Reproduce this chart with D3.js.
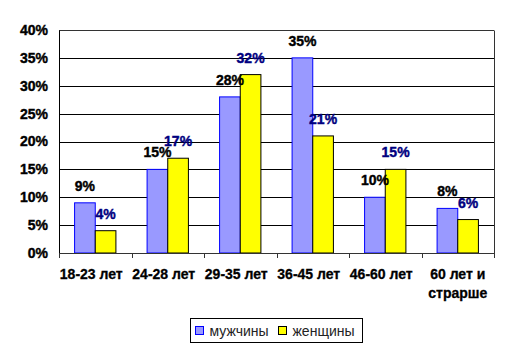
<!DOCTYPE html>
<html>
<head>
<meta charset="utf-8">
<script src="https://cdn.jsdelivr.net/npm/d3@7"></script>
<style>
  body { margin: 0; background: #fff; }
  text { font-family: "Liberation Sans", Arial, sans-serif; }
</style>
</head>
<body>
<div id="chart"></div>
<script>
const categories = [["18-23 лет"], ["24-28 лет"], ["29-35 лет"], ["36-45 лет"], ["46-60 лет"], ["60 лет и", "страрше"]];
const seriesNames = ["мужчины", "женщины"];
const men = [9, 15, 28, 35, 10, 8];
const women = [4, 17, 32, 21, 15, 6];
const yTicks = [0, 5, 10, 15, 20, 25, 30, 35, 40];

const W = 511, H = 354;
const margin = {top: 30, right: 17, bottom: 101, left: 59};
const width = W - margin.left - margin.right;
const height = H - margin.top - margin.bottom;

const fills = ["#9999ff", "#ffff00"];
const strokes = ["#0000ff", "#000000"];
const labelColors = ["#000000", "#000080"];

const svg = d3.select("#chart")
  .append("svg")
  .attr("width", W)
  .attr("height", H);

const g = svg.append("g")
  .attr("transform", `translate(${margin.left},${margin.top})`);

const x = d3.scaleBand()
  .domain(categories.map((d, i) => i))
  .range([0, width])
  .paddingInner(0.43)
  .paddingOuter(0.215);

const x1 = d3.scaleBand()
  .domain([0, 1])
  .range([0, x.bandwidth()]);

const y = d3.scaleLinear()
  .domain([0, 40])
  .range([height, 0]);

// gridlines
g.selectAll(".grid")
  .data(yTicks.slice(1))
  .enter()
  .append("line")
  .attr("x1", 0)
  .attr("x2", width)
  .attr("y1", d => Math.round(y(d)) + 0.5)
  .attr("y2", d => Math.round(y(d)) + 0.5)
  .attr("stroke", d => d === 40 ? "#333" : "#000")
  .attr("stroke-width", 1);

// plot border (right side)
g.append("line")
  .attr("x1", width + 0.5).attr("x2", width + 0.5)
  .attr("y1", Math.round(y(40)) + 0.5).attr("y2", height)
  .attr("stroke", "#333");

// bars
const series = [men, women];
series.forEach((vals, s) => {
  g.selectAll(".bar" + s)
    .data(vals)
    .enter()
    .append("rect")
    .attr("x", (d, i) => x(i) + x1(s))
    .attr("y", d => y(d))
    .attr("width", x1.bandwidth())
    .attr("height", d => height - y(d))
    .attr("fill", fills[s])
    .attr("stroke", strokes[s])
    .attr("stroke-width", 1);
});

// value labels
series.forEach((vals, s) => {
  g.selectAll(".lab" + s)
    .data(vals)
    .enter()
    .append("text")
    .attr("x", (d, i) => x(i) + x1(s) + x1.bandwidth() / 2)
    .attr("y", d => y(d) - 12)
    .attr("text-anchor", "middle")
    .style("font-size", "14px")
    .style("font-weight", "bold")
    .style("fill", labelColors[s])
    .style("stroke", labelColors[s])
    .style("stroke-width", 0.4)
    .text(d => d + "%");
});

// y axis
const yAxis = g.append("g")
  .call(d3.axisLeft(y).tickValues(yTicks).tickFormat(d => d + "%").tickSize(0).tickPadding(11));
yAxis.select(".domain").attr("stroke", "#000");
yAxis.selectAll("text")
  .style("font-size", "14px")
  .style("font-weight", "bold")
  .style("font-family", "Liberation Sans, Arial, sans-serif")
  .style("stroke", "#000")
  .style("stroke-width", 0.4)
  .attr("fill", "#000");

// x axis
const step = width / categories.length;
const xAxis = g.append("g")
  .attr("transform", `translate(0,${height})`);
xAxis.append("line")
  .attr("x1", 0).attr("x2", width)
  .attr("y1", 0.5).attr("y2", 0.5)
  .attr("stroke", "#333");
xAxis.selectAll(".tick")
  .data(d3.range(categories.length + 1))
  .enter()
  .append("line")
  .attr("x1", d => Math.round(d * step) + 0.5)
  .attr("x2", d => Math.round(d * step) + 0.5)
  .attr("y1", 0)
  .attr("y2", 5)
  .attr("stroke", "#333");

const catLabels = xAxis.selectAll(".cat")
  .data(categories)
  .enter()
  .append("text")
  .attr("x", (d, i) => x(i) + x.bandwidth() / 2 - (i < 5 ? 4 : 0))
  .attr("y", 26)
  .attr("text-anchor", "middle")
  .style("font-size", "14px")
  .style("font-weight", "bold")
  .style("fill", "#000")
  .style("stroke", "#000")
  .style("stroke-width", 0.3);
catLabels.each(function(d) {
  const t = d3.select(this);
  d.forEach((line, k) => {
    t.append("tspan")
      .attr("x", t.attr("x"))
      .attr("dy", k === 0 ? 0 : 19)
      .text(line);
  });
});

// legend
const legend = svg.append("g")
  .attr("transform", "translate(190.5,318.5)");
legend.append("rect")
  .attr("width", 172)
  .attr("height", 24)
  .attr("fill", "#fff")
  .attr("stroke", "#000");

const legendX = [5, 88];
seriesNames.forEach((name, s) => {
  legend.append("rect")
    .attr("x", legendX[s])
    .attr("y", 8)
    .attr("width", 8)
    .attr("height", 8)
    .attr("fill", fills[s])
    .attr("stroke", strokes[s]);
  legend.append("text")
    .attr("x", legendX[s] + 14)
    .attr("y", 17)
    .style("font-size", "14px")
    .style("fill", "#222")
    .text(name);
});
</script>
</body>
</html>
